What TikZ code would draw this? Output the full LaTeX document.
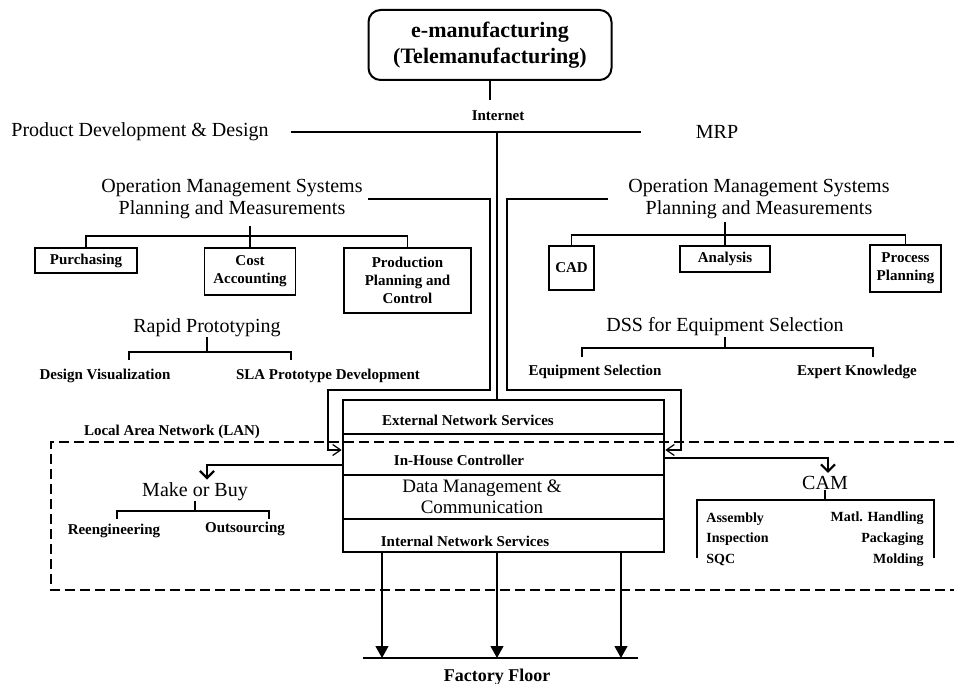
\documentclass[tikz,border=0pt]{standalone}
\usepackage{fontspec}
\setmainfont{Liberation Serif}
\usetikzlibrary{arrows.meta}

\begin{document}
\begin{tikzpicture}[x=0.5pt, y=-0.5pt,
    big/.style={font=\fontsize{10}{11}\selectfont, inner sep=0pt, align=center},
    lbl/.style={font=\bfseries\fontsize{7.5}{9}\selectfont, inner sep=0pt, align=center},
    small/.style={font=\bfseries\fontsize{7}{8}\selectfont, inner sep=0pt},
    box/.style={draw, line width=0.6pt, lbl},
    link/.style={line width=0.6pt},
    bold link/.style={line width=1.3pt},
    lan/.style={line width=0.6pt, dash pattern=on 5pt off 2.5pt},
    feed/.style={link, -{Straight Barb[length=4pt,width=5.5pt]}},
    branch/.style={line width=1.1pt, shorten >=1.5pt, -{Straight Barb[length=3.5pt,width=7pt]}},
    drop/.style={link, -{Triangle[length=6pt,width=6.5pt]}}]
    \useasboundingbox (0,0) rectangle (954,684);

    \newcommand\splitbar[5]{ %% 1: parent node, 2: bar y, 3: left x, 4: right x, 5: foot y
        \draw[link] (#1.south) -- (#1.south |- 0,#2);
        \draw[link] (#3,#5) |- (#4,#2) -- (#4,#5);
    }

    % top
    \node[draw, rounded corners=6pt, line width=1pt, minimum width=121.5pt, minimum height=35pt,
          font=\bfseries\fontsize{11}{13}\selectfont, align=center] (emfg) at (490,45)
          {e-manufacturing\\(Telemanufacturing)};
    \node[lbl] (inet) at (498,116) {Internet};
    \node[big] (pdd) at (140,132) {Product Development \& Design};
    \node[big] (mrp) at (717,132) {MRP};
    \coordinate (hub) at (497,133);

    \draw[link] (emfg.south) -- (emfg.south |- 0,100);
    \draw[link] ([xshift=11pt]pdd.east) -- ([xshift=-27pt]mrp.west);

    % left branch
    \node[big] (omsL) at (232,199) {Operation Management Systems\\Planning and Measurements};
    \node[box, minimum width=51pt, minimum height=12.5pt] (purch) at (86,260.5) {Purchasing};
    \node[box, minimum width=45.5pt, minimum height=23.5pt] (cost) at (250,271.5) {Cost\\Accounting};
    \node[box, minimum width=63.5pt, minimum height=32.5pt] (ppc) at (407.5,280.5) {Production\\Planning and\\Control};
    \draw[link] (cost.north) -- (cost.north |- 0,226);
    \draw[link] (purch.north) |- (ppc.north |- 0,236) -- (ppc.north);

    \node[big] (rp) at (207,328) {Rapid Prototyping};
    \node[lbl] (dv) at (105,376) {Design Visualization};
    \node[lbl] (sla) at (328,376) {SLA Prototype Development};
    \splitbar{rp}{352}{129}{291}{360}

    % right branch
    \node[big] (omsR) at (759,199) {Operation Management Systems\\Planning and Measurements};
    \node[box, minimum width=22.5pt, minimum height=22pt] (cad) at (571.5,268) {CAD};
    \node[box, minimum width=45pt, minimum height=13pt] (ana) at (725,259) {Analysis};
    \node[box, minimum width=35.5pt, minimum height=23.5pt] (pp) at (905.5,268.5) {Process\\Planning};
    \draw[link] (ana.north) -- (ana.north |- 0,222);
    \draw[link] (cad.north) |- (pp.north |- 0,235) -- (pp.north);

    \node[big] (dss) at (725,327) {DSS for Equipment Selection};
    \node[lbl] (eqs) at (595,372) {Equipment Selection};
    \node[lbl] (ek) at (857,372) {Expert Knowledge};
    \splitbar{dss}{348}{582}{873}{357}

    % controller
    \node[draw, line width=1.3pt, minimum width=160.5pt, minimum height=76pt] (ctl) at (503.5,476) {};
    \draw[link] (ctl.west |- 0,434) -- (ctl.east |- 0,434);
    \draw[link] (ctl.west |- 0,475) -- (ctl.east |- 0,475);
    \draw[link] (ctl.west |- 0,519) -- (ctl.east |- 0,519);
    \node[lbl] (ext) at (468,420) {External Network Services};
    \node[lbl] (inh) at (459,460) {In-House Controller};
    \node[font=\fontsize{9.5}{10.5}\selectfont, inner sep=0pt, align=center] (dm) at (482,497) {Data Management \&\\Communication};
    \node[lbl] (ins) at (465,541) {Internal Network Services};

    \draw[bold link] (hub) -- (hub |- ctl.north);
    \draw[feed] ([xshift=2.5pt]omsL.east) -| (490,390) -| (328,450) -- (ctl.west |- 0,450);
    \draw[feed] ([xshift=-10pt]omsR.west) -| (507,390) -| (681,450) -- (ctl.east |- 0,450);

    % LAN
    \draw[lan] (954,442) -- (51,442) -- (51,590) -- (954,590);
    \node[lbl] (lan) at (172,432) {Local Area Network (LAN)};

    \node[big] (mob) at (195,492) {Make or Buy};
    \node[lbl] (reeng) at (114,531) {Reengineering};
    \node[lbl] (outs) at (245,529) {Outsourcing};
    \splitbar{mob}{511}{117}{269}{519}
    \draw[branch] (ctl.west |- 0,465) -| ([xshift=6pt]mob.north);

    \node[big] (cam) at (825,483) {CAM};
    \draw[branch] (ctl.east |- 0,458) -| ([xshift=1.5pt]cam.north);
    \draw[link] (cam.south) -- (cam.south |- 0,500);
    \draw[link] (697,558) |- (934,500) -- (934,558);
    \node[small, anchor=west] (asm) at (706,519) {Assembly};
    \node[small, anchor=west] (insp) at (706,539) {Inspection};
    \node[small, anchor=west] (sqc) at (706,560) {SQC};
    \node[small, anchor=east] (matl) at (924,518) {Matl. Handling};
    \node[small, anchor=east] (pack) at (924,539) {Packaging};
    \node[small, anchor=east] (mold) at (924,560) {Molding};

    % factory floor
    \coordinate (flL) at (363,658);
    \coordinate (flR) at (638,658);
    \draw[link] (flL) -- (flR);
    \foreach \x in {382,497,621}
        \draw[drop] (ctl.south -| \x,0) -- (flL -| \x,0);
    \node[font=\bfseries\fontsize{9}{10}\selectfont, inner sep=0pt] (ff) at (497,677) {Factory Floor};
\end{tikzpicture}
\end{document}
